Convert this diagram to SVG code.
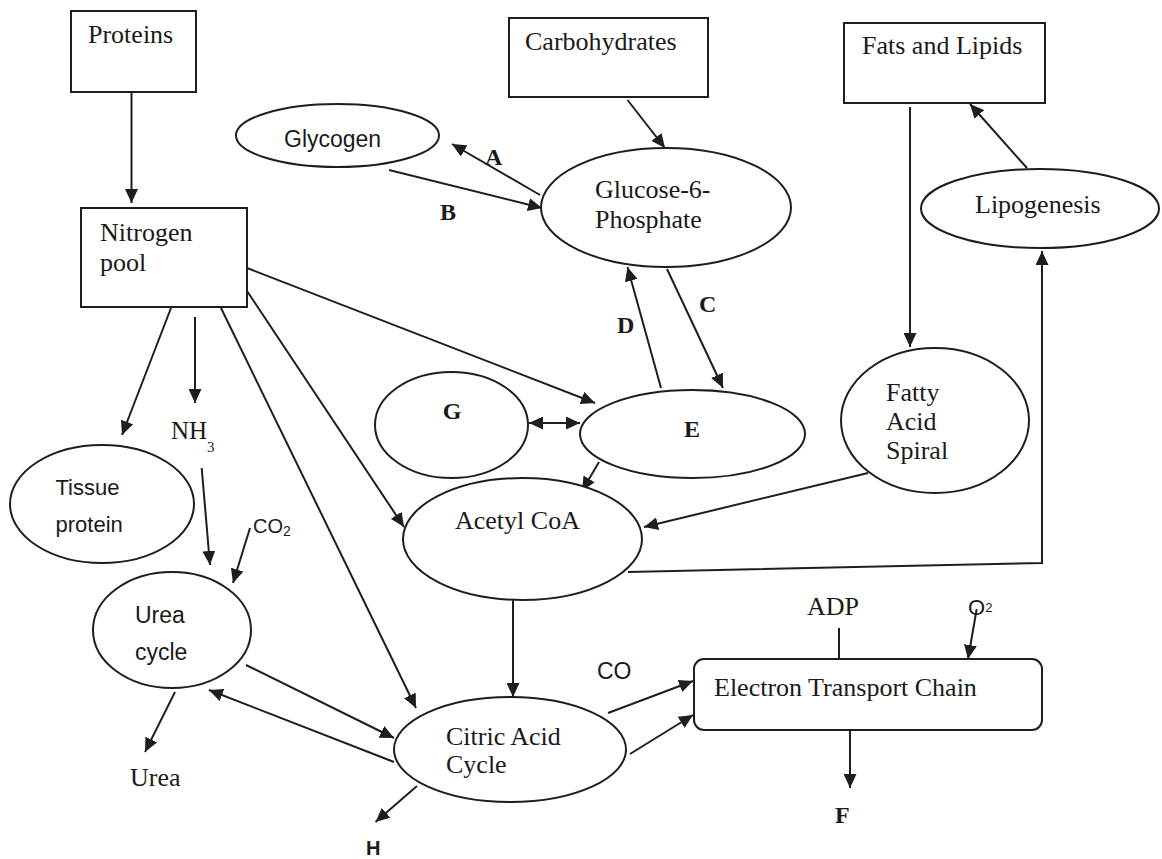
<svg xmlns="http://www.w3.org/2000/svg" width="1162" height="859" viewBox="0 0 1162 859">
<defs>
<style>
.box{fill:#fff;stroke:#1e1e1e;stroke-width:2}
.ell{fill:#fff;stroke:#1e1e1e;stroke-width:2}
.ln{fill:none;stroke:#1e1e1e;stroke-width:2}
.arr{marker-end:url(#ah)}
.serif{font-family:"Liberation Serif","Times New Roman",serif;font-size:26px;fill:#1a1a1a}
.sans{font-family:"Liberation Sans",Arial,sans-serif;font-size:23px;fill:#1a1a1a}
.bold{font-family:"Liberation Serif","Times New Roman",serif;font-size:24px;font-weight:bold;fill:#1a1a1a}
</style>
<marker id="ah" markerUnits="userSpaceOnUse" markerWidth="15" markerHeight="13" refX="14" refY="6.5" orient="auto-start-reverse">
<path d="M0,0 L14,6.5 L0,13 z" fill="#1e1e1e"/>
</marker>
</defs>
<rect width="1162" height="859" fill="#fff"/>

<g id="connectors">
<line class="ln arr" x1="131.5" y1="92" x2="131.5" y2="203"/>
<line class="ln arr" x1="627.5" y1="100" x2="665" y2="148"/>
<line class="ln arr" x1="910" y1="107" x2="910" y2="347"/>
<line class="ln arr" x1="1027" y1="168" x2="970" y2="104"/>
<line class="ln arr" x1="540" y1="195" x2="452" y2="144"/>
<line class="ln arr" x1="389" y1="170" x2="542" y2="208"/>
<line class="ln arr" x1="661" y1="388" x2="627.5" y2="267"/>
<line class="ln arr" x1="667" y1="269" x2="723" y2="388"/>
<line class="ln arr" x1="247" y1="268" x2="595" y2="403"/>
<line class="ln arr" x1="529" y1="423" x2="580" y2="423" marker-start="url(#ah)"/>
<line class="ln arr" x1="599" y1="462" x2="582" y2="491"/>
<line class="ln arr" x1="868" y1="473" x2="644" y2="527"/>
<polyline class="ln arr" points="628,572 1042,563 1042,251"/>
<line class="ln arr" x1="247" y1="291" x2="404" y2="527"/>
<line class="ln arr" x1="221" y1="308" x2="416" y2="708"/>
<line class="ln arr" x1="171" y1="308" x2="122" y2="435"/>
<line class="ln arr" x1="195" y1="317" x2="195" y2="403"/>
<line class="ln arr" x1="201.7" y1="468" x2="210" y2="565"/>
<line class="ln arr" x1="250" y1="528" x2="233" y2="583"/>
<line class="ln arr" x1="513" y1="600" x2="513" y2="697"/>
<line class="ln arr" x1="246" y1="665" x2="394" y2="738"/>
<line class="ln arr" x1="394" y1="762" x2="209" y2="690"/>
<line class="ln arr" x1="175" y1="692" x2="145" y2="752"/>
<line class="ln arr" x1="417" y1="786" x2="375.5" y2="822"/>
<line class="ln arr" x1="608" y1="713" x2="693" y2="681"/>
<line class="ln arr" x1="630" y1="754" x2="693" y2="715"/>
<line class="ln" x1="839" y1="628" x2="839" y2="659"/>
<line class="ln arr" x1="976.7" y1="609" x2="968" y2="659"/>
<line class="ln arr" x1="850" y1="730" x2="850" y2="788"/>
</g>

<g id="proteins"><rect class="box" x="71" y="11" width="125" height="81"/><text class="serif" x="88" y="43">Proteins</text></g>
<g id="carbohydrates"><rect class="box" x="509" y="18" width="199" height="79"/><text class="serif" x="525" y="50">Carbohydrates</text></g>
<g id="fats"><rect class="box" x="844" y="23" width="201" height="80"/><text class="serif" x="862" y="54">Fats and Lipids</text></g>
<g id="nitrogen"><rect class="box" x="81" y="208" width="166" height="99"/><text class="serif" x="100" y="241">Nitrogen</text><text class="serif" x="100" y="271">pool</text></g>
<g id="glycogen"><ellipse class="ell" cx="337.5" cy="135.5" rx="101.5" ry="31.5"/><text class="sans" x="284" y="147">Glycogen</text></g>
<g id="glucose"><ellipse class="ell" cx="666" cy="207.5" rx="125" ry="59.5"/><text class="serif" x="595" y="198">Glucose-6-</text><text class="serif" x="595" y="228">Phosphate</text></g>
<g id="lipogenesis"><ellipse class="ell" cx="1040" cy="208.5" rx="119" ry="39.5"/><text class="serif" x="975" y="213">Lipogenesis</text></g>
<g id="g"><ellipse class="ell" cx="451.5" cy="425" rx="76.5" ry="53"/><text class="bold" x="452" y="419" text-anchor="middle">G</text></g>
<g id="e"><ellipse class="ell" cx="692.5" cy="434" rx="112.5" ry="44"/><text class="bold" x="692" y="437" text-anchor="middle">E</text></g>
<g id="fatty"><ellipse class="ell" cx="935" cy="420.5" rx="94" ry="72.5"/><text class="serif" x="886" y="401">Fatty</text><text class="serif" x="886" y="430">Acid</text><text class="serif" x="886" y="459">Spiral</text></g>
<g id="tissue"><ellipse class="ell" cx="102" cy="504" rx="92" ry="59"/><text class="sans" style="font-size:22px" x="55.5" y="495">Tissue</text><text class="sans" style="font-size:22px" x="55.5" y="532">protein</text></g>
<g id="acetyl"><ellipse class="ell" cx="522.5" cy="539" rx="119.5" ry="61"/><text class="serif" x="455" y="529">Acetyl CoA</text></g>
<g id="ureacycle"><ellipse class="ell" cx="172" cy="630" rx="79" ry="58"/><text class="sans" x="135" y="623">Urea</text><text class="sans" x="135" y="660">cycle</text></g>
<g id="citric"><ellipse class="ell" cx="510" cy="749.5" rx="116" ry="52.5"/><text class="serif" x="446" y="745">Citric Acid</text><text class="serif" x="446" y="773">Cycle</text></g>
<g id="etc"><rect class="box" x="694" y="659" width="348" height="71" rx="10"/><text class="serif" x="714" y="696">Electron Transport Chain</text></g>

<g id="labels">
<text class="serif" style="font-size:25px" x="171" y="439">NH<tspan style="font-size:15px" dy="13">3</tspan></text>
<text class="sans" style="font-size:20px" x="253" y="533">CO<tspan style="font-size:14px" dy="3">2</tspan></text>
<text class="sans" x="597" y="679">CO</text>
<text class="serif" x="807" y="615">ADP</text>
<text class="sans" style="font-size:22px" x="968" y="615">O<tspan style="font-size:13px" dy="-3">2</tspan></text>
<text class="serif" x="130" y="786">Urea</text>
<text class="bold" x="485" y="165">A</text>
<text class="bold" x="440" y="220">B</text>
<text class="bold" x="699" y="312">C</text>
<text class="bold" x="617" y="333">D</text>
<text class="bold" x="835" y="823">F</text>
<text class="sans" style="font-size:20px;font-weight:bold" x="366" y="855">H</text>
</g>
</svg>
